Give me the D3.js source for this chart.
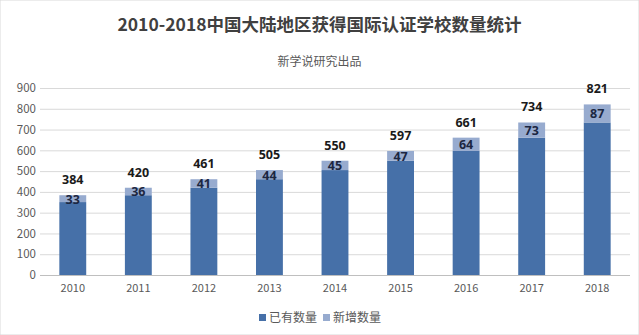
<!DOCTYPE html>
<html><head><meta charset="utf-8">
<script src="https://cdn.jsdelivr.net/npm/d3@7"></script>
<style>body{margin:0;background:#fff;}svg{display:block;font-family:"Noto Sans CJK SC","Noto Sans",sans-serif;}</style>
</head><body>
<script>
const years = ["2010","2011","2012","2013","2014","2015","2016","2017","2018"];
const totals = [384,420,461,505,550,597,661,734,821];
const added = [33,36,41,44,45,47,64,73,87];
const existing = [351,384,420,461,505,550,597,661,734];
const yTicks = [0,100,200,300,400,500,600,700,800,900];
const seriesNames = ["已有数量","新增数量"];
const colors = ["#4670a8","#97abcf"];

const W=639,H=335;
const svg=d3.select("body").append("svg").attr("width",W).attr("height",H);
svg.append("rect").attr("width",W).attr("height",H).attr("fill","#fff").attr("stroke","#d9d9d9");

const x=d3.scaleBand().domain(years).range([40,630]).paddingInner(0.59).paddingOuter(0.295);
const y=d3.scaleLinear().domain([0,900]).range([275,88]);

svg.append("text").attr("x",W/2).attr("y",31).attr("text-anchor","middle")
 .attr("font-size",17.5).attr("font-weight","bold").attr("fill","#404040")
 .text("2010-2018中国大陆地区获得国际认证学校数量统计");
svg.append("text").attr("x",W/2).attr("y",66).attr("text-anchor","middle")
 .attr("font-size",12).attr("fill","#595959").text("新学说研究出品");

// grid
svg.append("g").selectAll("line").data(yTicks).join("line")
 .attr("x1",40).attr("x2",630).attr("y1",d=>y(d)+0.5).attr("y2",d=>y(d)+0.5)
 .attr("stroke",d=>d===0?"#bfbfbf":"#d9d9d9").attr("stroke-width",1);

const ya=svg.append("g").attr("transform","translate(36,0)")
 .call(d3.axisLeft(y).tickValues(yTicks).tickSize(0).tickPadding(0));
ya.select(".domain").remove();
ya.selectAll("text").attr("font-size",11.5).attr("fill","#595959").attr("font-family","'Noto Sans CJK SC',sans-serif");

const xa=svg.append("g").attr("transform","translate(0,275)")
 .call(d3.axisBottom(x).tickSize(0).tickPadding(9));
xa.select(".domain").remove();
xa.selectAll("text").attr("font-size",11).attr("fill","#595959").attr("font-family","'Noto Sans CJK SC',sans-serif");

const data=years.map((yr,i)=>({yr,e:existing[i],a:added[i],t:totals[i]}));
const g=svg.append("g");
g.selectAll(".b0").data(data).join("rect").attr("x",d=>x(d.yr)).attr("width",x.bandwidth())
 .attr("y",d=>y(d.e)).attr("height",d=>y(0)-y(d.e)).attr("fill",colors[0]);
g.selectAll(".b1").data(data).join("rect").attr("x",d=>x(d.yr)).attr("width",x.bandwidth())
 .attr("y",d=>y(d.t)).attr("height",d=>y(d.e)-y(d.t)).attr("fill",colors[1]);
g.selectAll(".lt").data(data).join("text").attr("x",d=>x(d.yr)+x.bandwidth()/2).attr("y",d=>y(d.t)-11)
 .attr("text-anchor","middle").attr("font-size",12.5).attr("font-weight","bold").attr("fill","#1a1a1a")
 .attr("font-family","'Noto Sans',sans-serif").text(d=>d.t);
g.selectAll(".la").data(data).join("text").attr("x",d=>x(d.yr)+x.bandwidth()/2).attr("y",d=>(y(d.t)+y(d.e))/2+5)
 .attr("text-anchor","middle").attr("font-size",12.5).attr("font-weight","bold").attr("fill","#1c2742")
 .attr("font-family","'Noto Sans',sans-serif").text(d=>d.a);

// legend
const leg=svg.append("g");
const lx=[259,323];
seriesNames.forEach((n,i)=>{
 leg.append("rect").attr("x",lx[i]).attr("y",314).attr("width",7).attr("height",7).attr("fill",colors[i]);
 leg.append("text").attr("x",lx[i]+10).attr("y",322).attr("font-size",12).attr("fill","#595959").text(n);
});
</script>
</body></html>
